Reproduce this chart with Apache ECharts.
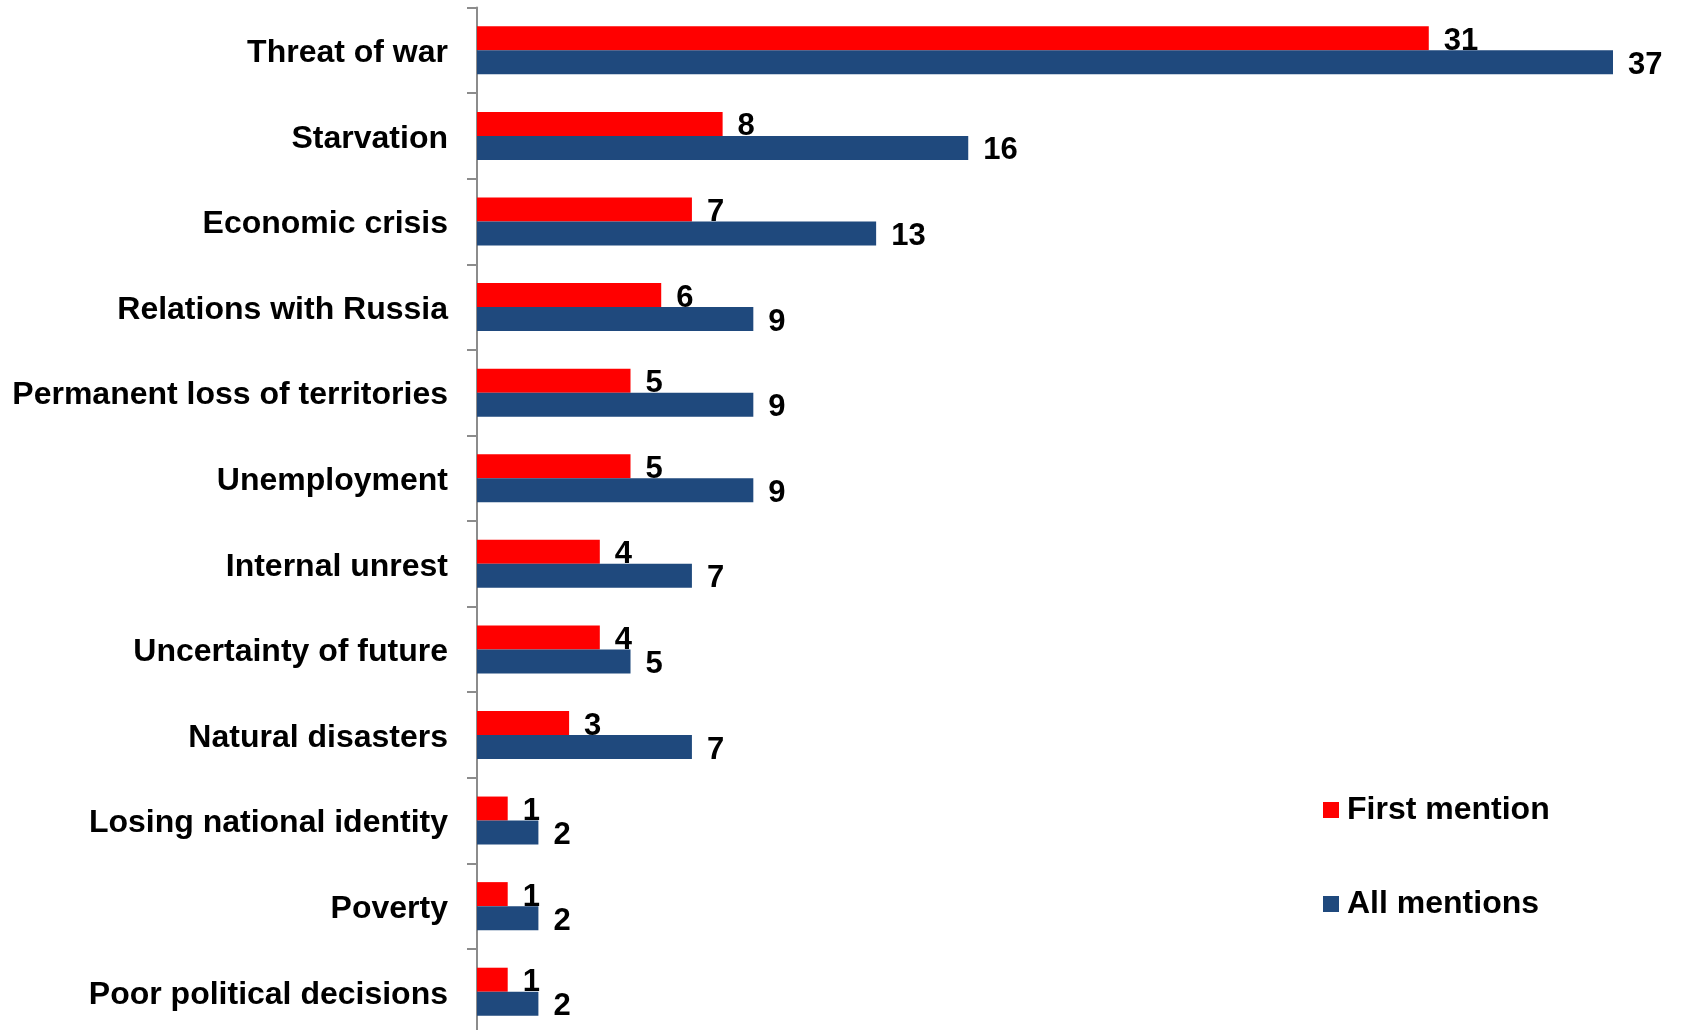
<!DOCTYPE html>
<html>
<head>
<meta charset="utf-8">
<script src="https://cdn.jsdelivr.net/npm/echarts@6/dist/echarts.min.js"></script>
<style>
  html, body { margin: 0; padding: 0; background: #fff; }
  #chart { width: 1681px; height: 1030px; }
</style>
</head>
<body>
<div id="chart"></div>
<script>
// Perceived threats, share of respondents (%)
const categories = [
  'Threat of war',
  'Starvation',
  'Economic crisis',
  'Relations with Russia',
  'Permanent loss of territories',
  'Unemployment',
  'Internal unrest',
  'Uncertainty of future',
  'Natural disasters',
  'Losing national identity',
  'Poverty',
  'Poor political decisions'
];
const firstMention = [31, 8, 7, 6, 5, 5, 4, 4, 3, 1, 1, 1];
const allMentions = [37, 16, 13, 9, 9, 9, 7, 5, 7, 2, 2, 2];

const FONT = '"Liberation Sans", Arial, sans-serif';

const chart = echarts.init(document.getElementById('chart'));

const valueLabel = {
  show: true,
  position: 'right',
  distance: 15,
  offset: [0, 3],
  color: '#000',
  fontFamily: FONT,
  fontWeight: 'bold',
  fontSize: 31
};

chart.setOption({
  animation: false,
  // plot area runs slightly past the bottom edge of the canvas
  grid: {
    left: 477, top: 7.5, width: 1136, height: 1027,
    containLabel: false,
    outerBoundsMode: 'none'
  },
  legend: {
    orient: 'vertical',
    left: 1318,
    top: 789,
    itemWidth: 16,
    itemHeight: 16,
    itemGap: 62,
    icon: 'rect',
    textStyle: {
      fontFamily: FONT,
      fontWeight: 'bold',
      fontSize: 32,
      lineHeight: 32,
      color: '#000',
      padding: [0, 0, 0, 3]
    },
    data: ['First mention', 'All mentions']
  },
  xAxis: {
    type: 'value',
    min: 0,
    max: 37,
    show: false
  },
  yAxis: {
    type: 'category',
    inverse: true,
    data: categories,
    axisLine: { show: true, lineStyle: { color: '#8c8c8c', width: 2 } },
    axisTick: { show: true, length: 10, lineStyle: { color: '#8c8c8c', width: 2 } },
    axisLabel: {
      margin: 29,
      formatter: (v) => '{c|' + v + '}',
      rich: {
        c: {
          color: '#000',
          fontFamily: FONT,
          fontWeight: 'bold',
          fontSize: 32,
          lineHeight: 32,
          padding: [6, 0, 0, 0]
        }
      }
    }
  },
  series: [
    {
      name: 'First mention',
      type: 'bar',
      data: firstMention,
      barWidth: 24,
      barGap: '0%',
      itemStyle: { color: '#FF0000' },
      label: valueLabel
    },
    {
      name: 'All mentions',
      type: 'bar',
      data: allMentions,
      barWidth: 24,
      barGap: '0%',
      itemStyle: { color: '#1F497D' },
      label: valueLabel
    }
  ]
});
</script>
</body>
</html>
